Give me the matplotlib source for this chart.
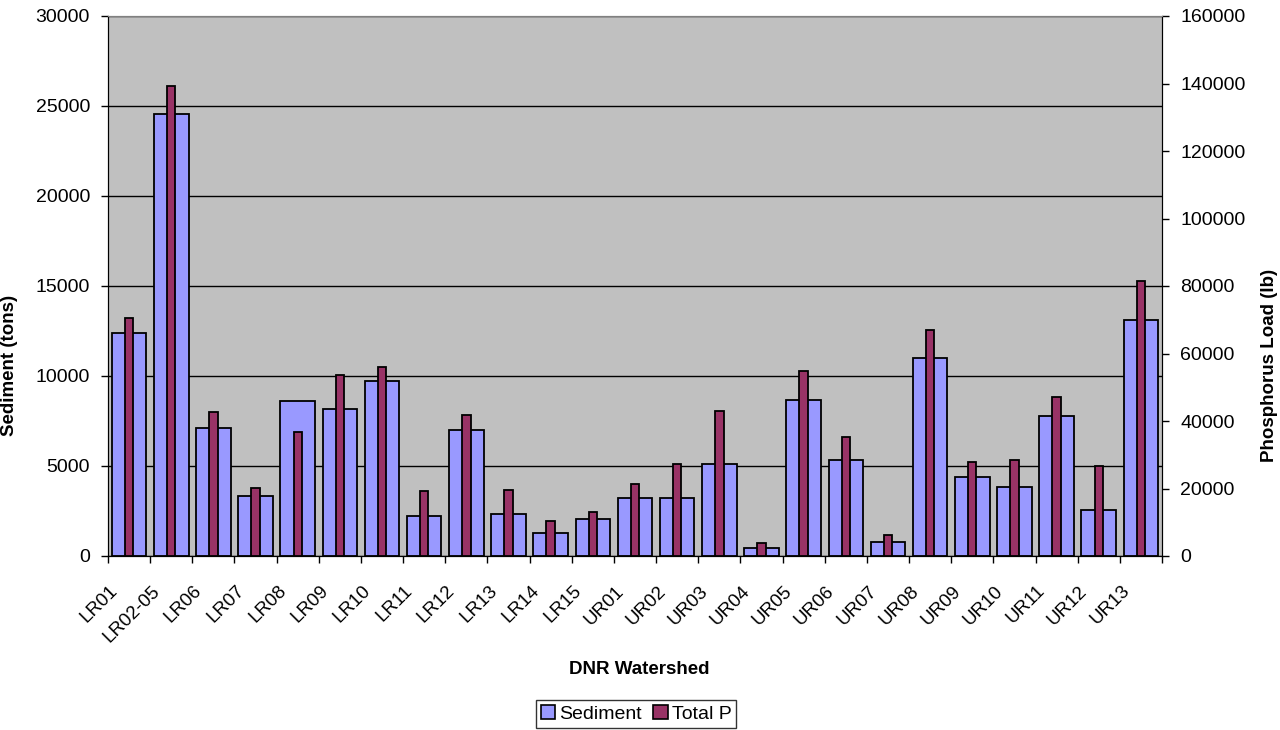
import matplotlib.pyplot as plt
import matplotlib.transforms as mtransforms
import numpy as np
from matplotlib.patches import Patch

plt.switch_backend('Agg')
plt.rcParams['font.family'] = ['Liberation Sans', 'DejaVu Sans']

# Watershed names and loads
watersheds = ["LR01", "LR02-05", "LR06", "LR07", "LR08", "LR09", "LR10", "LR11",
              "LR12", "LR13", "LR14", "LR15", "UR01", "UR02", "UR03", "UR04",
              "UR05", "UR06", "UR07", "UR08", "UR09", "UR10", "UR11", "UR12", "UR13"]
sediment_tons = [12400, 24550, 7100, 3340, 8610, 8160, 9740, 2250,
                 6990, 2310, 1260, 2030, 3240, 3200, 5100, 470,
                 8650, 5310, 770, 11020, 4400, 3810, 7800, 2530, 13090]
total_p_lb = [70400, 139400, 42700, 20100, 36800, 53700, 55900, 19200,
              41900, 19600, 10400, 13100, 21400, 27400, 42900, 3900,
              54800, 35200, 6200, 66900, 27900, 28300, 47000, 26600, 81500]

sed_color = '#9999FF'
tp_color = '#993366'

fig = plt.figure(figsize=(12.8, 7.3), dpi=100)
ax = fig.add_axes([108 / 1280, 1 - 556 / 730, (1162 - 108) / 1280, (556 - 16) / 730])
ax2 = ax.twinx()

x = np.arange(len(watersheds))

ax.set_facecolor('#C0C0C0')
ax.set_axisbelow(True)
ax.bar(x, sediment_tons, width=0.82, color=sed_color, edgecolor='black', linewidth=1.3, zorder=2)
ax2.bar(x, total_p_lb, width=0.2, color=tp_color, edgecolor='black', linewidth=1.3, zorder=3)

# axes limits and ticks
ax.set_xlim(-0.5, len(watersheds) - 0.5)
ax.set_ylim(0, 30000)
ax2.set_ylim(0, 160000)
ax.set_yticks(np.arange(0, 30001, 5000))
ax2.set_yticks(np.arange(0, 160001, 20000))
ax.yaxis.grid(True, color='black', linewidth=1.0)

ax.set_xticks(np.arange(len(watersheds) + 1) - 0.5)
ax.set_xticklabels([])
ax.set_xticks(x, minor=True)
ax.set_xticklabels(watersheds, minor=True, rotation=45, ha='right', va='top', fontsize=13.5)
ax.tick_params(axis='x', which='minor', length=0, pad=19)
ax.tick_params(axis='x', which='major', direction='out', length=5, width=1)
ax.tick_params(axis='y', direction='out', length=5, width=1, labelsize=14, pad=8)
ax2.tick_params(axis='y', direction='out', length=5, width=1, labelsize=14, pad=8)

# nudge the slanted category labels a little to the left, as in the reference
shift = mtransforms.ScaledTranslation(-8 / 100, 0, fig.dpi_scale_trans)
for lbl in ax.get_xticklabels(minor=True):
    lbl.set_transform(lbl.get_transform() + shift)

for a in (ax, ax2):
    a.spines['top'].set_color('#808080')
    a.spines['left'].set_color('black')
    a.spines['right'].set_color('black')
    a.spines['bottom'].set_color('black')

ax.set_ylabel("Sediment (tons)", fontsize=13.5, fontweight='bold')
ax2.set_ylabel("Phosphorus Load (lb)", fontsize=13.5, fontweight='bold')
ax.yaxis.set_label_coords(18 / 1280, 0.5, transform=fig.transFigure)
ax2.yaxis.set_label_coords(1261 / 1280, 0.5, transform=fig.transFigure)
fig.text(639 / 1280, 1 - 669 / 730, "DNR Watershed", ha='center', va='center',
         fontsize=13.5, fontweight='bold')

handles = [Patch(facecolor=sed_color, edgecolor='black', linewidth=1.2, label='Sediment'),
           Patch(facecolor=tp_color, edgecolor='black', linewidth=1.2, label='Total P')]
leg = fig.legend(handles=handles, loc='upper center', bbox_to_anchor=(636 / 1280, 1 - 700 / 730),
                 ncol=2, fontsize=14, frameon=True, fancybox=False, handlelength=0.75,
                 handleheight=0.75, handletextpad=0.2, columnspacing=0.6, borderpad=0.25,
                 borderaxespad=0)
leg.get_frame().set_edgecolor('black')
leg.get_frame().set_linewidth(1.0)

fig.savefig("out.png", dpi=100)
plt.close(fig)
